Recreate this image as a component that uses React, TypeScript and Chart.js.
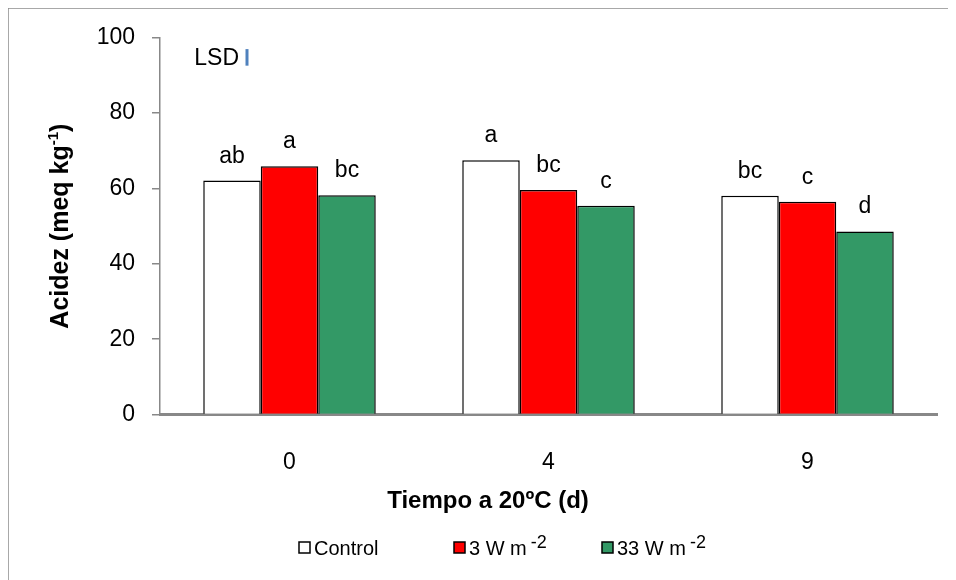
import { useEffect, useRef } from "react";
import { Chart, registerables } from "chart.js";

Chart.register(...registerables);

// Días de almacenamiento a 20 ºC
const dias = ["0", "4", "9"];

// Acidez (meq kg-1) por tratamiento
const control = [62.1, 67.5, 58.1];
const w3 = [65.9, 59.6, 56.5];
const w33 = [58.2, 55.4, 48.6];

// Letras de significancia sobre cada barra
const letrasControl = ["ab", "a", "bc"];
const letrasW3 = ["a", "bc", "c"];
const letrasW33 = ["bc", "c", "d"];

// Nombres de series (base + exponente)
const nombres = ["Control", "3 W m", "33 W m"];
const exponentes = ["", "-2", "-2"];
const colores = ["#FFFFFF", "#FF0000", "#339966"];

// Barra de LSD (centro y amplitud en unidades del eje)
const lsdCentro = 94.8;
const lsdValor = 4.4;

const yMin = 0;
const yMax = 100;
const yPaso = 20;

const FONT = "'Liberation Sans', Arial, Helvetica, sans-serif";

export default function App() {
  const ref = useRef<HTMLCanvasElement | null>(null);

  useEffect(() => {
    const canvas = ref.current;
    if (!canvas) return;

    const letras = [letrasControl, letrasW3, letrasW33];

    const decor = {
      id: "decor",
      beforeDraw(chart: any) {
        const ctx = chart.ctx;
        ctx.save();
        ctx.strokeStyle = "#8c8c8c";
        ctx.lineWidth = 1.5;
        ctx.beginPath();
        ctx.moveTo(1, chart.height);
        ctx.lineTo(1, 1);
        ctx.lineTo(chart.width, 1);
        ctx.stroke();
        ctx.restore();
      },
      afterDatasetsDraw(chart: any) {
        const ctx = chart.ctx;
        const ys = chart.scales.y;
        const area = chart.chartArea;
        ctx.save();

        // letras sobre las barras
        ctx.fillStyle = "#000";
        ctx.font = `23px ${FONT}`;
        ctx.textAlign = "center";
        ctx.textBaseline = "alphabetic";
        chart.data.datasets.forEach((_: any, di: number) => {
          const meta = chart.getDatasetMeta(di);
          meta.data.forEach((el: any, i: number) => {
            ctx.fillText(letras[di][i], el.x, el.y - 18);
          });
        });

        // LSD
        const y1 = ys.getPixelForValue(lsdCentro - lsdValor / 2);
        const y2 = ys.getPixelForValue(lsdCentro + lsdValor / 2);
        ctx.font = `23px ${FONT}`;
        ctx.textAlign = "right";
        ctx.textBaseline = "middle";
        ctx.fillText("LSD", area.left + 79, (y1 + y2) / 2 + 1);
        ctx.strokeStyle = "#4F81BD";
        ctx.lineWidth = 3;
        ctx.beginPath();
        ctx.moveTo(area.left + 87, y1);
        ctx.lineTo(area.left + 87, y2);
        ctx.stroke();

        // título eje X
        ctx.fillStyle = "#000";
        ctx.font = `bold 24px ${FONT}`;
        ctx.textAlign = "center";
        ctx.textBaseline = "alphabetic";
        ctx.fillText("Tiempo a 20ºC (d)", 481, 501);

        // título eje Y con superíndice
        const partes = [
          { t: "Acidez (meq kg", f: `bold 25px ${FONT}`, dy: 0 },
          { t: "-1", f: `bold 15px ${FONT}`, dy: -10 },
          { t: ")", f: `bold 25px ${FONT}`, dy: 0 },
        ];
        let total = 0;
        const anchos = partes.map((p) => {
          ctx.font = p.f;
          const w = ctx.measureText(p.t).width;
          total += w;
          return w;
        });
        ctx.save();
        ctx.translate(61, (area.top + area.bottom) / 2);
        ctx.rotate(-Math.PI / 2);
        ctx.textAlign = "left";
        let x = -total / 2;
        partes.forEach((p, i) => {
          ctx.font = p.f;
          ctx.fillText(p.t, x, p.dy);
          x += anchos[i];
        });
        ctx.restore();

        // leyenda
        const legX = [292, 447, 595];
        const cajaY = 535;
        const base = 548;
        nombres.forEach((n, i) => {
          const bx = legX[i];
          ctx.fillStyle = colores[i];
          ctx.fillRect(bx, cajaY, 11, 11);
          ctx.strokeStyle = "#000";
          ctx.lineWidth = 1.5;
          ctx.strokeRect(bx, cajaY, 11, 11);
          ctx.fillStyle = "#000";
          ctx.font = `20px ${FONT}`;
          ctx.textAlign = "left";
          ctx.fillText(n, bx + 15, base);
          if (exponentes[i]) {
            const w = ctx.measureText(n).width;
            ctx.font = `18px ${FONT}`;
            ctx.fillText(exponentes[i], bx + 15 + w + 4, base - 7);
          }
        });

        ctx.restore();
      },
    };

    const chart = new Chart(canvas, {
      type: "bar",
      data: {
        labels: dias,
        datasets: [
          { label: nombres[0], data: control, backgroundColor: colores[0] },
          { label: nombres[1] + exponentes[1], data: w3, backgroundColor: colores[1] },
          { label: nombres[2] + exponentes[2], data: w33, backgroundColor: colores[2] },
        ].map((d) => ({
          ...d,
          borderColor: "#000",
          borderWidth: 1.5,
          categoryPercentage: 0.666,
          barPercentage: 1.0,
        })),
      },
      options: {
        animation: false,
        responsive: false,
        devicePixelRatio: 1,
        layout: { padding: { top: 26, right: 19, left: 0, bottom: 0 } },
        plugins: {
          legend: { display: false },
          tooltip: { enabled: false },
        },
        scales: {
          x: {
            grid: { display: true, drawOnChartArea: false, drawTicks: false },
            border: { display: true, color: "#888888", width: 3 },
            ticks: {
              color: "#000",
              font: { family: FONT, size: 23 },
              padding: 34,
            },
            afterFit(scale: any) {
              scale.height = 165.5;
            },
          },
          y: {
            min: yMin,
            max: yMax,
            grid: {
              display: true,
              drawOnChartArea: false,
              drawTicks: true,
              tickLength: 8,
              color: "#888888",
              lineWidth: 1.5,
            },
            border: { display: true, color: "#888888", width: 1.5 },
            ticks: {
              stepSize: yPaso,
              color: "#000",
              font: { family: FONT, size: 23 },
              padding: 17,
            },
            afterFit(scale: any) {
              scale.width = 153;
            },
          },
        },
      },
      plugins: [decor],
    });

    return () => chart.destroy();
  }, []);

  return (
    <div style={{ position: "relative", left: -1, top: -1 }}>
      <canvas ref={ref} width={949} height={573} style={{ display: "block" }} />
    </div>
  );
}
